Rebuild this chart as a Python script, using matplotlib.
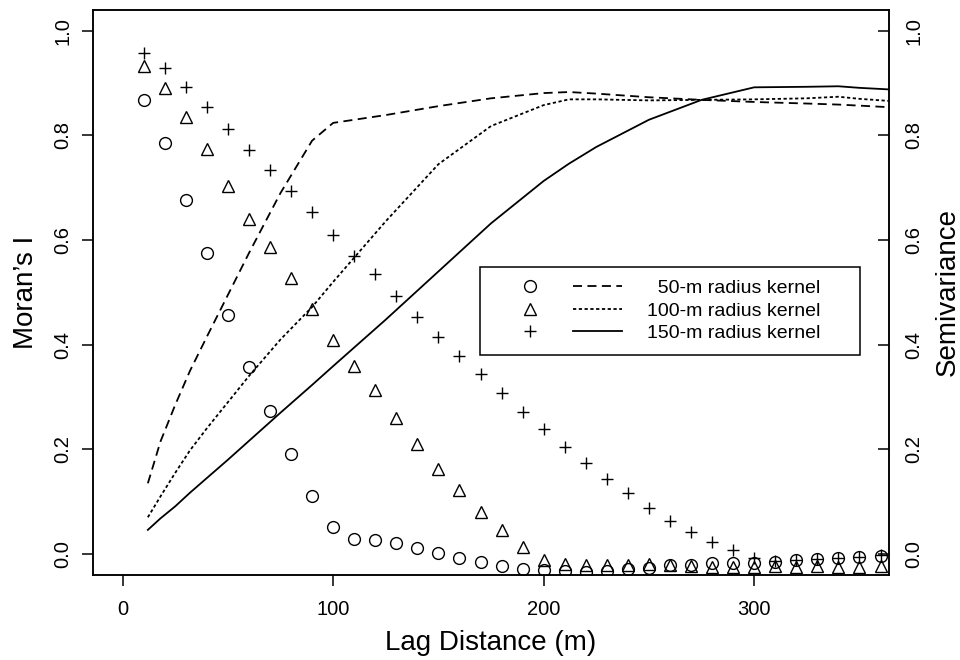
import matplotlib
matplotlib.use("Agg")
import matplotlib.pyplot as plt
from matplotlib.lines import Line2D
from matplotlib.legend_handler import HandlerBase

plt.rcParams['font.family'] = ['Liberation Sans', 'DejaVu Sans']

# Moran's I correlogram (points), lag distance in m
lag = [10, 20, 30, 40, 50, 60, 70, 80, 90, 100, 110, 120, 130, 140, 150, 160, 170, 180,
       190, 200, 210, 220, 230, 240, 250, 260, 270, 280, 290, 300, 310, 320, 330, 340, 350, 360]
moran_50 = [0.868, 0.786, 0.677, 0.576, 0.457, 0.358, 0.274, 0.191, 0.111, 0.052, 0.029, 0.027,
            0.021, 0.012, 0.002, -0.007, -0.015, -0.023, -0.029, -0.030, -0.032, -0.034, -0.032,
            -0.029, -0.027, -0.021, -0.021, -0.017, -0.017, -0.017, -0.015, -0.011, -0.009,
            -0.007, -0.006, -0.004]
moran_100 = [0.933, 0.891, 0.836, 0.774, 0.704, 0.641, 0.587, 0.528, 0.469, 0.409, 0.359, 0.313,
             0.260, 0.210, 0.163, 0.123, 0.081, 0.046, 0.014, -0.011, -0.019, -0.021, -0.021,
             -0.021, -0.019, -0.021, -0.023, -0.025, -0.025, -0.025, -0.023, -0.025, -0.023,
             -0.025, -0.025, -0.023]
moran_150 = [0.958, 0.929, 0.893, 0.855, 0.813, 0.773, 0.734, 0.694, 0.654, 0.610, 0.570, 0.535,
             0.493, 0.453, 0.415, 0.379, 0.344, 0.308, 0.272, 0.239, 0.205, 0.174, 0.144, 0.117,
             0.088, 0.063, 0.042, 0.023, 0.008, -0.007, -0.013, -0.011, -0.009, -0.007, -0.006,
             -0.002]

# semivariance curves (lines)
sv_lag = [12, 18, 25, 32, 40, 50, 60, 75, 90, 100, 125, 150, 175, 200, 212, 225, 250, 275, 300,
          325, 340, 350, 364]
sv_50 = [0.135, 0.215, 0.285, 0.350, 0.415, 0.495, 0.575, 0.690, 0.790, 0.824, 0.839, 0.856,
         0.871, 0.881, 0.883, 0.880, 0.873, 0.868, 0.864, 0.861, 0.859, 0.857, 0.854]
sv_100 = [0.070, 0.110, 0.155, 0.198, 0.240, 0.290, 0.340, 0.410, 0.472, 0.520, 0.636, 0.745,
          0.818, 0.858, 0.869, 0.869, 0.867, 0.868, 0.869, 0.871, 0.874, 0.870, 0.866]
sv_150 = [0.046, 0.068, 0.091, 0.117, 0.145, 0.180, 0.216, 0.270, 0.323, 0.359, 0.448, 0.540,
          0.632, 0.713, 0.746, 0.778, 0.830, 0.868, 0.892, 0.893, 0.894, 0.891, 0.888]

labels = ['  50-m radius kernel', '100-m radius kernel', '150-m radius kernel']


class MarkerAndLine(HandlerBase):
    # marker on the left, line sample on the right (like R's legend with pch + lty)
    def create_artists(self, legend, orig_handle, xdescent, ydescent, width, height, fontsize, trans):
        pts, curve = orig_handle
        y = height / 2 - ydescent
        x0 = -xdescent
        m = Line2D([x0 + 0.29 * width], [y])
        m.update_from(pts)
        m.set_linestyle('none')
        ln = Line2D([x0 + 0.62 * width, x0 + width], [y, y])
        ln.update_from(curve)
        ln.set_marker('none')
        m.set_transform(trans)
        ln.set_transform(trans)
        return [m, ln]


fig = plt.figure(figsize=(9.6, 6.6), dpi=100)
ax = fig.add_axes([0.097, 0.129, 0.829, 0.856])
ax2 = ax.twinx()

mk = dict(linestyle='none', mfc='none', mec='k', mew=1.0, color='k')
p1, = ax.plot(lag, moran_50, marker='o', ms=8.5, **mk)
p2, = ax.plot(lag, moran_100, marker='^', ms=8, **mk)
p3, = ax.plot(lag, moran_150, marker='+', ms=8, **mk)

l1, = ax2.plot(sv_lag, sv_50, color='k', lw=1.3, dashes=(5, 3))
l2, = ax2.plot(sv_lag, sv_100, color='k', lw=1.3, dashes=(1.8, 1.4))
l3, = ax2.plot(sv_lag, sv_150, color='k', lw=1.3)

for a in (ax, ax2):
    a.set_xlim(-14, 364)
    a.set_ylim(-0.04, 1.04)
    a.set_yticks([0.0, 0.2, 0.4, 0.6, 0.8, 1.0])
    for s in a.spines.values():
        s.set_linewidth(1.1)

ax.set_xticks([0, 100, 200, 300])
ax.tick_params(axis='x', direction='out', length=8, width=1.1, labelsize=14.5, pad=10)
ax.tick_params(axis='y', direction='out', length=8, width=1.1, labelsize=14.5, pad=7,
               labelrotation=90)
for t in ax.get_yticklabels():
    t.set_va('center')
ax2.tick_params(axis='y', direction='in', length=8, width=1.1, labelsize=14.5, pad=11,
                labelrotation=90)
for t in ax2.get_yticklabels():
    t.set_va('center')

ax.set_xlabel('Lag Distance (m)', fontsize=20, labelpad=8)
ax.set_ylabel('Moran\u2019s I', fontsize=20, labelpad=10)
ax2.set_ylabel('Semivariance', fontsize=20, labelpad=8)

leg = ax2.legend([(p1, l1), (p2, l2), (p3, l3)], labels,
                 handler_map={tuple: MarkerAndLine()},
                 loc='upper left', bbox_to_anchor=(0.486, 0.0, 0.4774, 0.545),
                 mode='expand', borderaxespad=0, fontsize=14, handlelength=6.66,
                 handletextpad=1.3, borderpad=0.65, labelspacing=0.25,
                 fancybox=False, framealpha=1, edgecolor='k')
leg.get_frame().set_linewidth(1.1)

fig.savefig('out.png', dpi=100)
